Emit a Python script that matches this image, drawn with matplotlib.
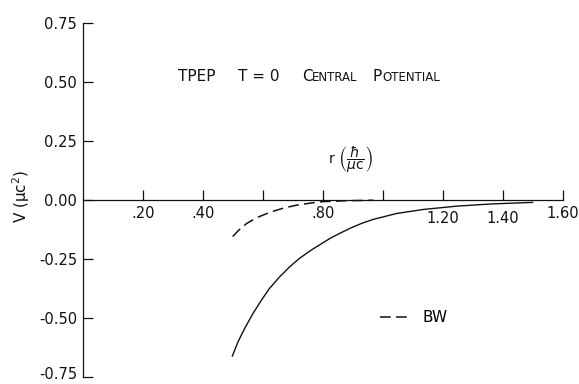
import matplotlib
matplotlib.use("Agg")
import matplotlib.pyplot as plt
from matplotlib.transforms import ScaledTranslation

# ---- data ----
r_tpep = [0.498, 0.518, 0.540, 0.568, 0.596, 0.623, 0.657, 0.690, 0.723, 0.762, 0.795,
          0.824, 0.851, 0.891, 0.930, 0.969, 1.047, 1.136, 1.247, 1.358, 1.502]
v_tpep = [-0.664, -0.600, -0.544, -0.480, -0.424, -0.374, -0.325, -0.283, -0.247, -0.212, -0.186,
          -0.163, -0.145, -0.120, -0.099, -0.082, -0.057, -0.040, -0.026, -0.017, -0.010]

r_bw = [0.50, 0.52, 0.547, 0.58, 0.624, 0.67, 0.713, 0.76, 0.80, 0.88, 0.97]
v_bw = [-0.155, -0.128, -0.099, -0.075, -0.052, -0.034, -0.022, -0.013, -0.007, -0.003, -0.001]

x_ticks = [0.2, 0.4, 0.6, 0.8, 1.0, 1.2, 1.4, 1.6]
x_ticklabels = [".20", ".40", "", ".80", "", "1.20", "1.40", "1.60"]
y_ticks = [0.75, 0.50, 0.25, 0.0, -0.25, -0.50, -0.75]
y_ticklabels = ["0.75", "0.50", "0.25", "0.00", "-0.25", "-0.50", "-0.75"]

W, H = 579, 384
fig = plt.figure(figsize=(W / 100, H / 100), dpi=100)
ax = fig.add_axes([0, 0, 1, 1])
ax.set_xlim(-82.7 / 300, (W - 82.7) / 300)
ax.set_ylim(-(H - 200) / 236, 200 / 236)

ink = "#111111"
ax.plot(r_tpep, v_tpep, color=ink, lw=1.0, solid_capstyle="butt", solid_joinstyle="round")
ax.plot(r_bw, v_bw, color=ink, lw=1.1, linestyle=(0, (7, 3.5)), label="BW")

for s in ("top", "right"):
    ax.spines[s].set_visible(False)
ax.spines["left"].set_position(("data", 0))
ax.spines["bottom"].set_position(("data", 0))
ax.spines["left"].set_bounds(-0.75, 0.75)
ax.spines["bottom"].set_bounds(0, 1.6)
for s in ("left", "bottom"):
    ax.spines[s].set_linewidth(0.9)
    ax.spines[s].set_color(ink)

ax.set_xticks(x_ticks)
ax.set_xticklabels(x_ticklabels)
ax.set_yticks(y_ticks)
ax.set_yticklabels(y_ticklabels)
ax.tick_params(axis="x", direction="in", length=7.2, width=0.9, pad=4, labelsize=10.5, colors=ink)
ax.tick_params(axis="y", direction="in", length=7.2, width=0.9, pad=4, labelsize=10.5, colors=ink)

# 1.20 and 1.40 labels sit a little lower in the original
for lab in ax.get_xticklabels():
    if lab.get_text() in ("1.20", "1.40"):
        lab.set_transform(lab.get_transform() + ScaledTranslation(0, -4 / 72, fig.dpi_scale_trans))
# keep the bottom y label inside the picture
for lab in ax.get_yticklabels():
    if lab.get_text() == "-0.75":
        lab.set_transform(lab.get_transform() + ScaledTranslation(0, 3 / 72, fig.dpi_scale_trans))

def fx(px):
    return px / W

def fy(py):
    return 1 - py / H

# title pieces
fig.text(fx(178), fy(81), "TPEP", fontsize=11, va="baseline", ha="left", color=ink)
fig.text(fx(238), fy(81), "T = 0", fontsize=11, va="baseline", ha="left", color=ink)
fig.text(fx(302), fy(81), "C", fontsize=11, va="baseline", ha="left", color=ink)
fig.text(fx(312), fy(81), "ENTRAL", fontsize=8.5, va="baseline", ha="left", color=ink)
fig.text(fx(373), fy(81), "P", fontsize=11, va="baseline", ha="left", color=ink)
fig.text(fx(382), fy(81), "OTENTIAL", fontsize=8.5, va="baseline", ha="left", color=ink)

# axis labels
fig.text(fx(351), fy(160), r"r $\left(\dfrac{\hbar}{\mu \mathrm{c}}\right)$", fontsize=10,
         ha="center", va="center", color=ink)
fig.text(fx(21), fy(196), "V (μc$^{2}$)", fontsize=11, rotation=90,
         ha="center", va="center", color=ink)

ax.legend(loc="center left", bbox_to_anchor=(fx(380), fy(318)), frameon=False,
          fontsize=11, handlelength=2.0, handletextpad=0.8, borderpad=0, borderaxespad=0)

fig.savefig("out.png", dpi=100)
